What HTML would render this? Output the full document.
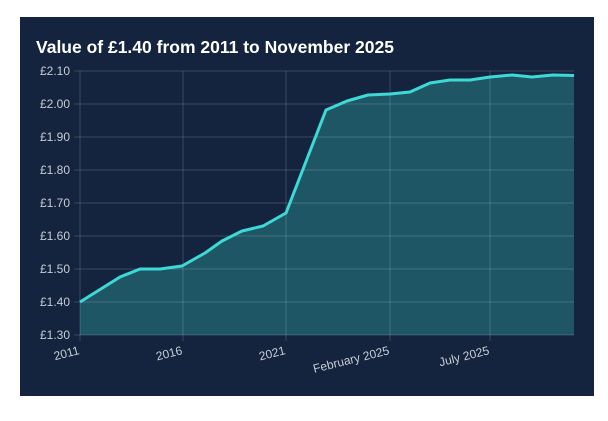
<!DOCTYPE html>
<html><head><meta charset="utf-8"><style>
html,body{margin:0;padding:0;background:#fff;width:608px;height:421px;overflow:hidden}
</style></head><body>
<svg width="608" height="421" xmlns="http://www.w3.org/2000/svg" font-family="Liberation Sans, sans-serif">
<rect x="20" y="17" width="574" height="379" fill="#14243e"/>
<text x="36" y="53" fill="#fff" font-size="17.5" font-weight="bold">Value of £1.40 from 2011 to November 2025</text>
<path d="M80,302 L120,277 L140,269 L160,269 L182,266 L205,253 L222,241 L242,231 L263,226 L286,213 L305,164 L326,110 L347,101 L368,95 L390,94 L410,92 L430,83 L450,80 L470,80 L490,77 L512,75 L532,77 L553,75 L574,75.5 L574,335 L80,335 Z" fill="#1f5666"/>
<g stroke="#ffffff" stroke-width="1" stroke-opacity="0.16">
<line x1="74" y1="71" x2="574" y2="71"/><line x1="74" y1="104" x2="574" y2="104"/><line x1="74" y1="137" x2="574" y2="137"/><line x1="74" y1="170" x2="574" y2="170"/><line x1="74" y1="203" x2="574" y2="203"/><line x1="74" y1="236" x2="574" y2="236"/><line x1="74" y1="269" x2="574" y2="269"/><line x1="74" y1="302" x2="574" y2="302"/><line x1="74" y1="335" x2="574" y2="335"/>
<line x1="80" y1="71" x2="80" y2="341"/><line x1="183" y1="71" x2="183" y2="341"/><line x1="286" y1="71" x2="286" y2="341"/><line x1="390" y1="71" x2="390" y2="341"/><line x1="490" y1="71" x2="490" y2="341"/>
</g>
<path d="M80,302 L120,277 L140,269 L160,269 L182,266 L205,253 L222,241 L242,231 L263,226 L286,213 L305,164 L326,110 L347,101 L368,95 L390,94 L410,92 L430,83 L450,80 L470,80 L490,77 L512,75 L532,77 L553,75 L574,75.5" fill="none" stroke="#3dd9d6" stroke-width="3" stroke-linejoin="round"/>
<g fill="#c8ccd4" font-size="12" text-anchor="end">
<text x="70" y="75">£2.10</text><text x="70" y="108">£2.00</text><text x="70" y="141">£1.90</text><text x="70" y="174">£1.80</text><text x="70" y="207">£1.70</text><text x="70" y="240">£1.60</text><text x="70" y="273">£1.50</text><text x="70" y="306">£1.40</text><text x="70" y="339">£1.30</text>
<text transform="translate(80,354) rotate(-14)">2011</text>
<text transform="translate(183,354) rotate(-14)">2016</text>
<text transform="translate(286,354) rotate(-14)">2021</text>
<text transform="translate(390,354) rotate(-14)">February 2025</text>
<text transform="translate(490,354) rotate(-14)">July 2025</text>
</g>
</svg>
</body></html>
